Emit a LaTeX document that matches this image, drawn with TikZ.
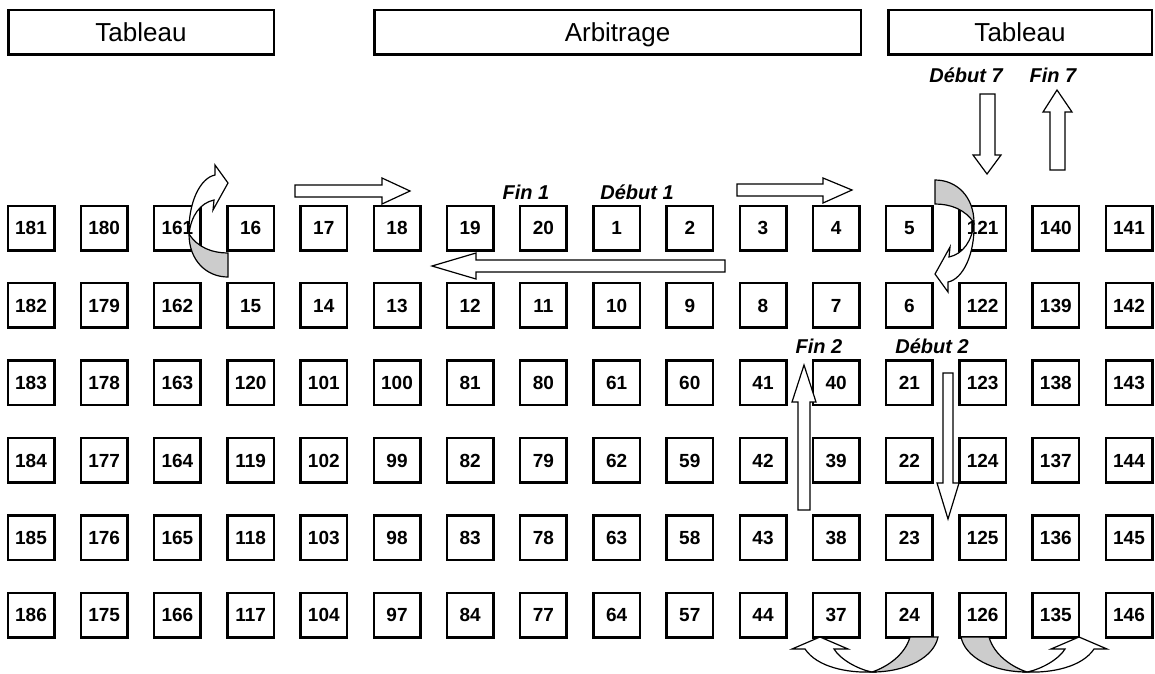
\documentclass[tikz,border=0pt]{standalone}
\usepackage{fontspec}
\setmainfont{Liberation Sans}

\tikzset{
  place/.style={draw, line width=2.5pt, minimum width=46.5pt, minimum height=44.5pt, inner sep=0pt,
    text height=13.6pt, text depth=0pt, font=\fontsize{19}{22}\selectfont\bfseries},
  title/.style={draw, line width=2.5pt, minimum height=44.5pt, inner sep=0pt,
    text height=18.6pt, text depth=0pt, font=\fontsize{26}{30}\selectfont},
  tag/.style={font=\fontsize{20}{24}\selectfont\bfseries\itshape},
  blockarrow/.style={draw, line width=1.2pt, fill=white, line join=miter},
  backside/.style={draw, line width=1.2pt, fill=black!20},
}

% curled arrow beside a box (tail at the bottom, head up and right)
\newcommand{\sidecurl}{%
  \draw[backside] (0,49) .. controls (-22,49) and (-39,32) .. (-39,6)
    .. controls (-30,20) and (-15,25) .. (0,25) -- cycle;
  \draw[blockarrow] (-39,6) .. controls (-40,-25) and (-28,-50) .. (-13,-53)
    -- (-13,-63) -- (0,-45) -- (-15,-18) -- (-14,-28)
    .. controls (-28,-25) and (-37,-12) .. (-39,6) -- cycle;
}
% curled arrow under two boxes (tail on the right, head up on the left)
\newcommand{\floorcurl}{%
  \draw[backside] (0,35) .. controls (35,35) and (62,20) .. (66,0)
    -- (38,0) .. controls (33,18) and (15,30) .. (0,35) -- cycle;
  \draw[blockarrow] (-67,12) .. controls (-55,30) and (-25,36) .. (0,35)
    .. controls (-15,32) and (-32,22) .. (-38,12)
    -- (-24,12) -- (-52,0) -- (-80,12) -- cycle;
}

\begin{document}
\begin{tikzpicture}[x=1pt, y=-1pt]
\useasboundingbox (0,0) rectangle (1155,673);

% Titles
\node[title, minimum width=265.5pt] (tabL) at (141,32) {Tableau};
\node[title, minimum width=486.5pt] (arb) at (617.5,32) {Arbitrage};
\node[title, minimum width=263.5pt] (tabR) at (1020,32) {Tableau};

% Places
\foreach \row [count=\r from 0] in {
  {181,180,161,16,17,18,19,20,1,2,3,4,5,121,140,141},
  {182,179,162,15,14,13,12,11,10,9,8,7,6,122,139,142},
  {183,178,163,120,101,100,81,80,61,60,41,40,21,123,138,143},
  {184,177,164,119,102,99,82,79,62,59,42,39,22,124,137,144},
  {185,176,165,118,103,98,83,78,63,58,43,38,23,125,136,145},
  {186,175,166,117,104,97,84,77,64,57,44,37,24,126,135,146}} {
  \foreach \num [count=\c from 0] in \row {
    \node[place] (n\num) at ({31+73.2*\c},{228+77.4*\r}) {\num};
  }
}

% Labels
\node[tag] (fin1) at (526,192) {Fin 1};
\node[tag] (deb1) at (637,192) {Début 1};
\node[tag] (fin2) at (819,346) {Fin 2};
\node[tag] (deb2) at (932,346) {Début 2};
\node[tag] (deb7) at (966,75) {Début 7};
\node[tag] (fin7) at (1053,75) {Fin 7};

% Straight arrows
\draw[blockarrow] (295,185) -- (382,185) -- (382,178) -- (410,191) -- (382,204) -- (382,197) -- (295,197) -- cycle;
\draw[blockarrow] (737,184) -- (823,184) -- (823,178) -- (852,190) -- (823,203) -- (823,196) -- (737,196) -- cycle;
\draw[blockarrow] (725,260) -- (476,260) -- (476,253) -- (432,266) -- (476,279) -- (476,272) -- (725,272) -- cycle;
\draw[blockarrow] (798,510) -- (798,402) -- (792,402) -- (804,365) -- (816,402) -- (810,402) -- (810,510) -- cycle;
\draw[blockarrow] (943,373) -- (943,483) -- (937,483) -- (948,519) -- (959,483) -- (953,483) -- (953,373) -- cycle;
\draw[blockarrow] (980,94) -- (980,155) -- (973,155) -- (987,174) -- (1001,155) -- (995,155) -- (995,94) -- cycle;
\draw[blockarrow] (1050,170) -- (1050,112) -- (1043,112) -- (1057,90) -- (1072,112) -- (1065,112) -- (1065,170) -- cycle;

% Curled arrows
\begin{scope}[shift={(228,228)}]
  \sidecurl
\end{scope}
\begin{scope}[shift={(935,229)}, rotate=180]
  \sidecurl
\end{scope}
\begin{scope}[shift={(872,637)}]
  \floorcurl
\end{scope}
\begin{scope}[shift={(1027,637)}, xscale=-1]
  \floorcurl
\end{scope}

\end{tikzpicture}
\end{document}
